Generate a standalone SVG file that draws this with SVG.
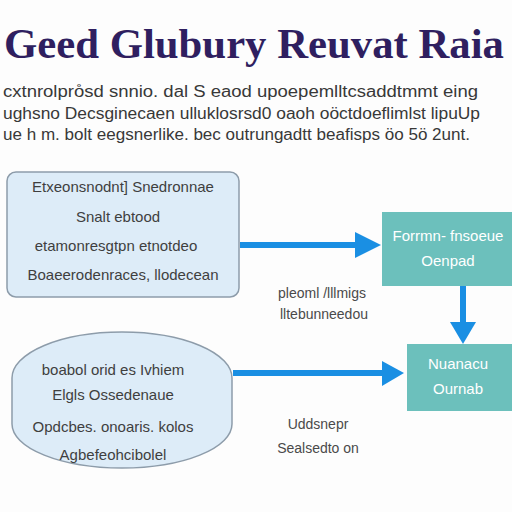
<svg xmlns="http://www.w3.org/2000/svg" width="512" height="512" viewBox="0 0 512 512">
<defs>
<style>
.title{font-family:"Liberation Serif","DejaVu Serif",serif;font-size:42px;font-weight:bold;fill:#2f1f60;}
.para{font-family:"Liberation Sans","DejaVu Sans",sans-serif;font-size:16px;fill:#383838;}
.nt{font-family:"Liberation Sans","DejaVu Sans",sans-serif;font-size:15px;fill:#3f3f3f;text-anchor:middle;}
.wt{font-family:"Liberation Sans","DejaVu Sans",sans-serif;font-size:15px;fill:#ffffff;text-anchor:middle;}
.lb{font-family:"Liberation Sans","DejaVu Sans",sans-serif;font-size:14px;fill:#4a4a4a;text-anchor:middle;}
.box{fill:#ddecf8;stroke:#8d9caa;stroke-width:1.5;}
.teal{fill:#6cc0bc;}
.conn{stroke:#1a8fe3;stroke-width:6;fill:none;}
.head{fill:#1a8fe3;}
</style>
</defs>
<rect width="512" height="512" fill="#fdfdfd"/>
<text class="title" x="4" y="58" textLength="500" lengthAdjust="spacingAndGlyphs">Geed Glubury Reuvat Raia</text>
<text class="para" x="3" y="97" textLength="475" lengthAdjust="spacingAndGlyphs">cxtnrolpro̊sd snnio. dal S eaod upoepemlltcsaddtmmt eing</text>
<text class="para" x="3" y="119" textLength="477" lengthAdjust="spacingAndGlyphs">ughsno Decsginecaen ulluklosrsd0 oaoh oöctdoeflimlst lipuUp</text>
<text class="para" x="3" y="140" textLength="467" lengthAdjust="spacingAndGlyphs">ue h m. bolt eegsnerlike. bec outrungadtt beafisps öo 5ö 2unt.</text>

<g id="connectors">
<line class="conn" x1="240" y1="245" x2="358" y2="245"/>
<polygon class="head" points="355,232 381,245 355,258"/>
<line class="conn" x1="463" y1="286" x2="463" y2="325"/>
<polygon class="head" points="450,322 476,322 463,344"/>
<line class="conn" x1="233" y1="373" x2="385" y2="373"/>
<polygon class="head" points="382,361 404,373 382,386"/>
<text class="lb" x="322" y="298">pleoml /lllmigs</text>
<text class="lb" x="324" y="319">lltebunneedou</text>
<text class="lb" x="318" y="429">Uddsnepr</text>
<text class="lb" x="318" y="453">Sealsedto on</text>
</g>

<g id="node1">
<rect class="box" x="7" y="172" width="232" height="125" rx="9"/>
<text class="nt" x="123" y="192">Etxeonsnodnt] Snedronnae</text>
<text class="nt" x="118" y="222">Snalt ebtood</text>
<text class="nt" x="116" y="251">etamonresgtpn etnotdeo</text>
<text class="nt" x="123" y="280">Boaeerodenraces, llodecean</text>
</g>

<g id="node2">
<rect class="teal" x="382" y="212" width="130" height="74"/>
<text class="wt" x="448" y="241">Forrmn- fnsoeue</text>
<text class="wt" x="448" y="266">Oenpad</text>
</g>

<g id="node3">
<rect class="teal" x="407" y="344" width="105" height="67"/>
<text class="wt" x="458" y="369">Nuanacu</text>
<text class="wt" x="458" y="394">Ournab</text>
</g>

<g id="node4">
<path class="box" d="M12,378 A110,46 0 0 1 232,378 L232,424 A110,44 0 0 1 12,424 Z"/>
<text class="nt" x="113" y="375">boabol orid es Ivhiem</text>
<text class="nt" x="113" y="400">Elgls Ossedenaue</text>
<text class="nt" x="113" y="432">Opdcbes. onoaris. kolos</text>
<text class="nt" x="113" y="460">Agbefeohcibolel</text>
</g>
</svg>
